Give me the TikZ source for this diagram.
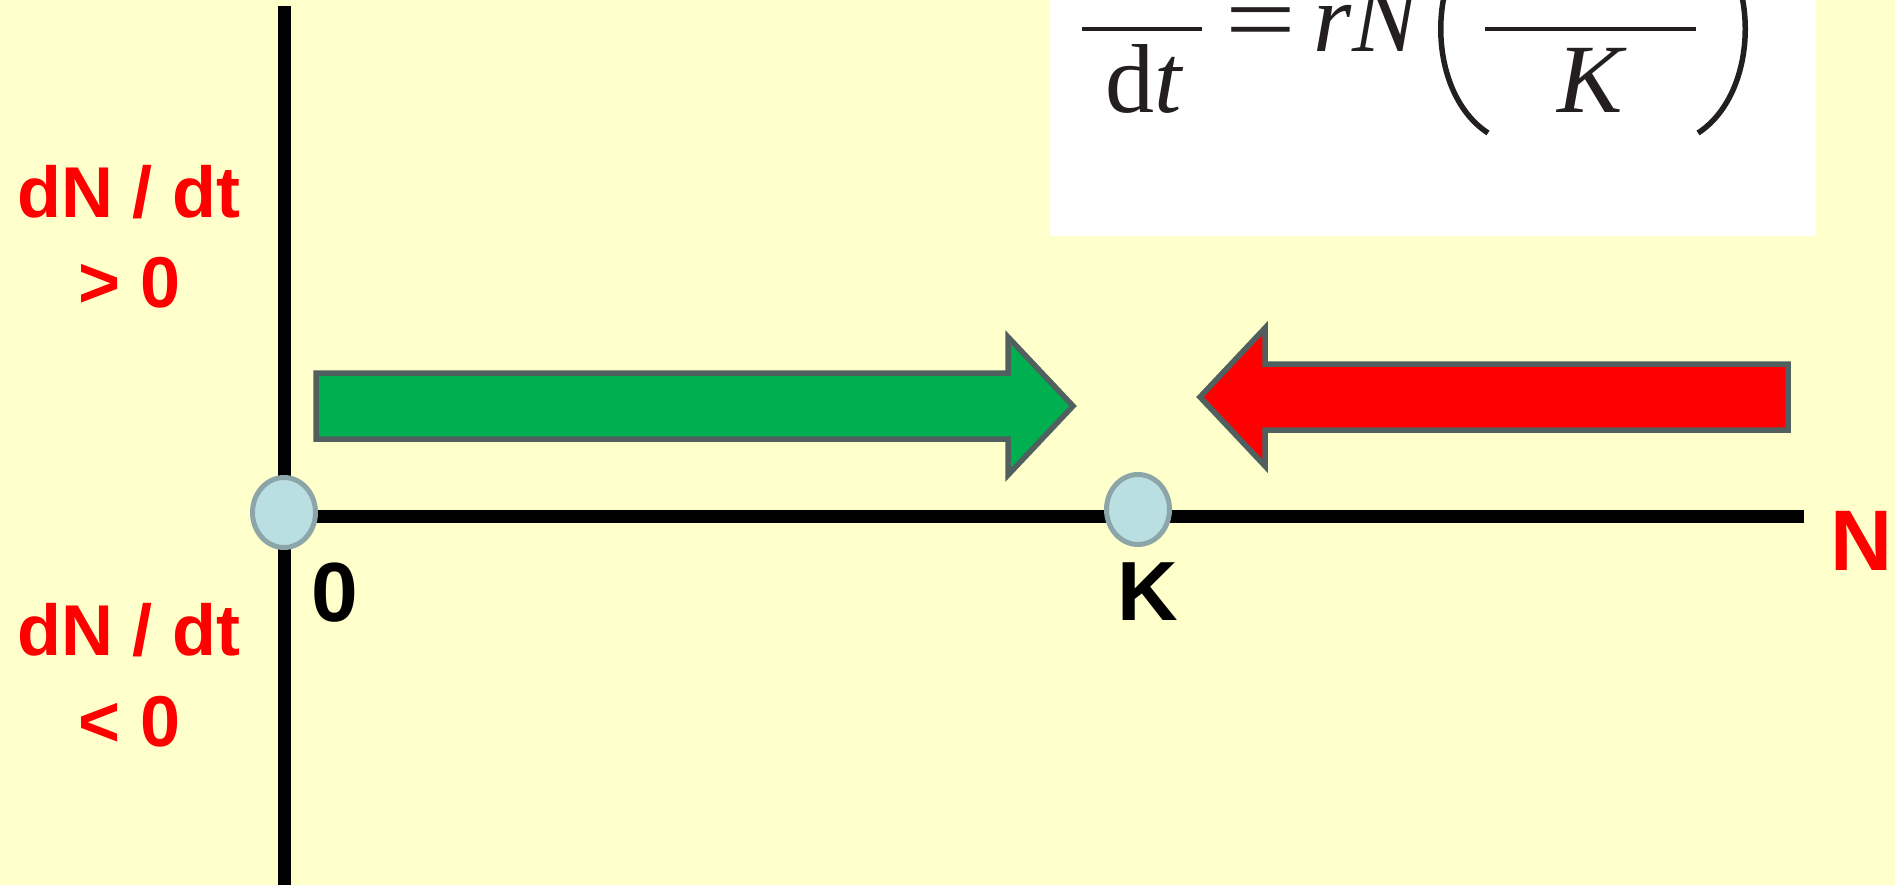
\documentclass[tikz,border=0pt]{standalone}
\usepackage{fontspec}
\usepackage{graphicx}
\setmainfont{Liberation Sans}
\newfontfamily\tms{Liberation Serif}
\usetikzlibrary{shapes.geometric}
\definecolor{bg}{RGB}{255,255,204}
\definecolor{grn}{RGB}{0,176,80}
\definecolor{edgec}{RGB}{79,96,94}
\definecolor{ring}{RGB}{140,165,168}
\definecolor{dotfill}{RGB}{185,223,227}
\definecolor{ink}{RGB}{35,31,32}
\begin{document}
\begin{tikzpicture}[x=1pt,y=-1pt,
  lbl/.style={text=red,font=\fontsize{72}{72}\bfseries\selectfont,inner sep=0,anchor=base},
  axlbl/.style={font=\fontsize{84}{84}\bfseries\selectfont,inner sep=0,anchor=base},
  dot/.style={ellipse,draw=ring,fill=dotfill,line width=5,minimum width=63,minimum height=70,inner sep=0},
  axisline/.style={line width=13,black},
  bigarrow/.style={draw=edgec,line width=5.5,line join=miter,miter limit=10},
  fml/.style={font=\fontsize{98}{98}\tms\selectfont,text=ink,inner sep=0,anchor=base},
  fbar/.style={line width=3.5,draw=ink},
  paren/.style={line width=5.5,draw=ink}]
\useasboundingbox (0,0) rectangle (1895,885);
\fill[bg] (0,0) rectangle (1895,885);
% formula box
\fill[white] (1050,0) rectangle (1816,236);
\begin{scope}
  \clip (1050,0) rectangle (1816,236);
  \draw[fbar] (1082,29) -- (1202,29);
  \node[fml] (dt) at (1145,113) {d\textit{t}};
  \node[fml] (eq) at (1261,53) {\scalebox{1.28}[1]{=}};
  \node[fml] (rn) at (1368,52) {\textit{rN}};
  \draw[paren] (1488,133) .. controls (1425,92) and (1425,-34) .. (1488,-75);
  \draw[fbar] (1485,29) -- (1696,29);
  \node[fml] (kk) at (1592,113) {\textit{K}};
  \draw[paren] (1698,133) .. controls (1761,92) and (1761,-34) .. (1698,-75);
\end{scope}
% axes
\coordinate (vtop) at (284,6);
\coordinate (vbot) at (284,885);
\coordinate (origin) at (284,516);
\coordinate (hend) at (1804,516);
\draw[axisline] (vtop) -- (vbot);
\draw[axisline] (origin) -- (hend);
% arrows
\draw[bigarrow,fill=grn] (316,373) -- (1008,373) -- (1008,337) -- (1073,406) -- (1008,475) -- (1008,439) -- (316,439) -- cycle;
\draw[bigarrow,fill=red] (1788,364) -- (1265,364) -- (1265,328) -- (1200,397) -- (1265,466) -- (1265,430) -- (1788,430) -- cycle;
% equilibrium points
\node[dot] (zdot) at (284,512.5) {};
\node[dot] (kdot) at (1138,509.5) {};
% labels
\node[lbl] (pos1) at (129,218) {dN / dt};
\node[lbl] (pos2) at (130,308) {> 0};
\node[lbl] (neg1) at (129,655) {dN / dt};
\node[lbl] (neg2) at (130,746) {< 0};
\node[axlbl] (zero) at (335,621) {0};
\node[axlbl] (klbl) at (1148,620) {K};
\node[axlbl,text=red,font=\fontsize{86}{86}\bfseries\selectfont] (nlbl) at (1862,570) {N};
\end{tikzpicture}
\end{document}
